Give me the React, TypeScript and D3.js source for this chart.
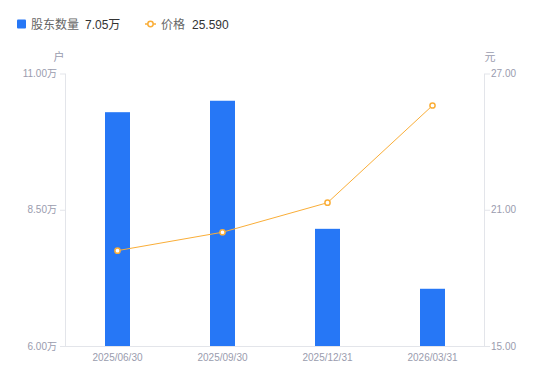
import React from "react";
import * as d3 from "d3";

const categories = ["2025/06/30", "2025/09/30", "2025/12/31", "2026/03/31"];
const holders = [10.29, 10.5, 8.15, 7.05]; // 万户
const prices = [19.2, 20.01, 21.31, 25.59];
const leftTicks = [6, 8.5, 11];
const rightTicks = [15, 21, 27];

const W = 550, H = 381;
const M = { left: 65, right: 485, top: 73.5, bottom: 346 };
const FONT = "'Liberation Sans', Arial, 'Noto Sans CJK SC', sans-serif";
const BLUE = "#2677F6";
const ORANGE = "#FAAE38";
const AXIS_TXT = "#9A9CAE";
const AXIS_LINE = "#E3E5EA";

export default function App() {
  const x = d3.scaleBand<string>().domain(categories).range([M.left, M.right]);
  const yL = d3.scaleLinear().domain([6, 11]).range([M.bottom, M.top]);
  const yR = d3.scaleLinear().domain([15, 27]).range([M.bottom, M.top]);
  const bw = 25;
  const cx = (c: string) => (x(c) as number) + x.bandwidth() / 2;
  const line = d3.line<number>().x((_, i) => cx(categories[i])).y((d) => yR(d));

  return (
    <svg width={W} height={H} style={{ position: "absolute", left: 0, top: 0, fontFamily: FONT }}>
      <rect width={W} height={H} fill="#fff" />
      {/* legend */}
      <rect x={17} y={19.5} width={9} height={9} rx={1} fill={BLUE} />
      <text x={31} y={28.5} fontSize={12} fill="#666">股东数量</text>
      <text x={85} y={28.5} fontSize={12} fill="#333">7.05万</text>
      <line x1={145} x2={156} y1={24} y2={24} stroke={ORANGE} strokeWidth={1.5} />
      <circle cx={150.5} cy={24} r={2.7} fill="#fff" stroke={ORANGE} strokeWidth={1.5} />
      <text x={161} y={28.5} fontSize={12} fill="#666">价格</text>
      <text x={192} y={28.5} fontSize={12} fill="#333">25.590</text>

      {/* units */}
      <text x={59} y={61} fontSize={11} fill={AXIS_TXT} textAnchor="middle">户</text>
      <text x={490} y={61} fontSize={11} fill={AXIS_TXT} textAnchor="middle">元</text>

      {/* axes */}
      <line x1={M.left + 0.5} x2={M.left + 0.5} y1={M.top} y2={M.bottom} stroke={AXIS_LINE} />
      <line x1={M.right - 0.5} x2={M.right - 0.5} y1={M.top} y2={M.bottom} stroke={AXIS_LINE} />
      <line x1={M.left} x2={M.right} y1={M.bottom + 0.5} y2={M.bottom + 0.5} stroke={AXIS_LINE} />
      {leftTicks.map((t) => (
        <g key={"l" + t}>
          <line x1={M.left - 5} x2={M.left} y1={yL(t) + 0.5} y2={yL(t) + 0.5} stroke={AXIS_LINE} />
          <text x={M.left - 8} y={yL(t) + 3.5} fontSize={10} fill={AXIS_TXT} textAnchor="end">
            {t.toFixed(2)}万
          </text>
        </g>
      ))}
      {rightTicks.map((t) => (
        <g key={"r" + t}>
          <line x1={M.right} x2={M.right + 5} y1={yR(t) + 0.5} y2={yR(t) + 0.5} stroke={AXIS_LINE} />
          <text x={M.right + 6} y={yR(t) + 3.5} fontSize={10} fill={AXIS_TXT}>
            {t.toFixed(2)}
          </text>
        </g>
      ))}
      {categories.map((c) => (
        <text key={c} x={cx(c)} y={361} fontSize={10} fill={AXIS_TXT} textAnchor="middle">
          {c}
        </text>
      ))}

      {/* bars */}
      {holders.map((v, i) => (
        <rect key={i} x={cx(categories[i]) - bw / 2} y={yL(v)} width={bw} height={M.bottom - yL(v)} fill={BLUE} />
      ))}

      {/* line */}
      <path d={line(prices) || ""} fill="none" stroke={ORANGE} strokeWidth={1} />
      {prices.map((p, i) => (
        <circle key={i} cx={cx(categories[i])} cy={yR(p)} r={2.6} fill="#fff" stroke={ORANGE} strokeWidth={1.5} />
      ))}
    </svg>
  );
}
